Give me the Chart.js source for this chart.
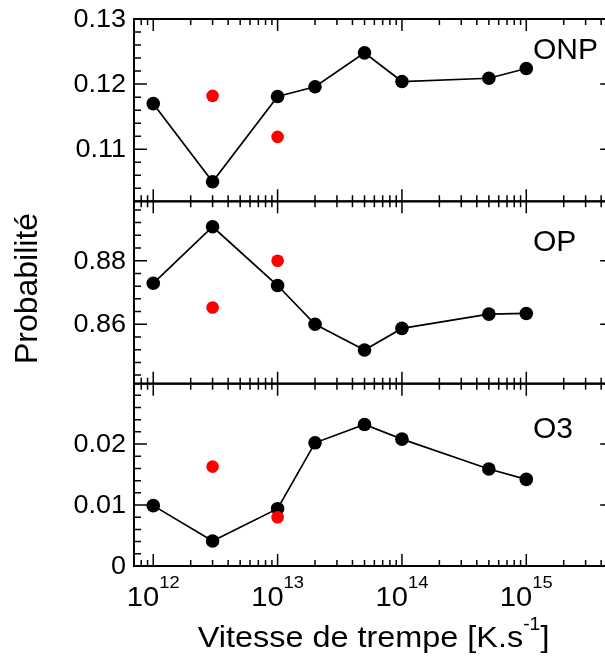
<!DOCTYPE html>
<html>
<head>
<meta charset="utf-8">
<script src="https://cdn.jsdelivr.net/npm/chart.js@4.4.0/dist/chart.umd.min.js"></script>
<style>
  html, body { margin: 0; padding: 0; background: #fff; overflow: hidden; }
  #wrap { width: 620px; height: 659px; }
</style>
</head>
<body>
<div id="wrap"><canvas id="chart" width="620" height="659"></canvas></div>
<script>
// quench rates (K/s) and probabilities
const rates = [1e12, 3e12, 1e13, 2e13, 5e13, 1e14, 5e14, 1e15];
const onp = [0.1170, 0.1050, 0.1181, 0.1196, 0.1248, 0.1204, 0.1209, 0.1224];
const op = [0.8729, 0.8907, 0.8722, 0.8600, 0.8519, 0.8587, 0.8632, 0.8634];
const o3 = [0.0099, 0.0041, 0.0094, 0.0202, 0.0232, 0.0208, 0.0159, 0.0142];

// red points (other calculation)
const redRates = [3e12, 1e13];
const onpRed = [0.1182, 0.1119];
const opRed = [0.8653, 0.8800];
const o3Red = [0.0163, 0.0080];

const panelNames = ['ONP', 'OP', 'O3'];
const onpTicks = [0.11, 0.12, 0.13];
const opTicks = [0.86, 0.88];
const o3Ticks = [0, 0.01, 0.02];
const xDecades = [12, 13, 14, 15];

const FONT = '"Liberation Sans", Arial, sans-serif';
const SX = 1.08; // the figure text is a bit wide

function pts(xs, ys) {
    return xs.map((x, i) => ({ x: x, y: ys[i] }));
}

function blackSet(ys, axis) {
    return {
        data: pts(rates, ys), yAxisID: axis, showLine: true,
        borderColor: '#000', borderWidth: 1.7,
        pointBackgroundColor: '#000', pointBorderWidth: 0,
        pointRadius: 6.8, order: 1
    };
}

function redSet(ys, axis) {
    return {
        data: pts(redRates, ys), yAxisID: axis, showLine: false,
        pointBackgroundColor: '#ff0000', pointBorderWidth: 0,
        pointRadius: 6.3, order: 0
    };
}

function yAxis(min, max, ticks, minor) {
    return {
        type: 'linear', position: 'left', stack: 'prob', stackWeight: 1,
        min: min, max: max,
        grid: { display: false, drawTicks: false },
        border: { display: false },
        ticks: { display: false },
        minorStep: minor,
        afterBuildTicks: s => { s.ticks = ticks.map(v => ({ value: v })); },
        afterFit: s => { s.width = 134; }
    };
}

function wideText(ctx, text, x, y, align, sx) {
    ctx.save();
    ctx.translate(x, y);
    ctx.scale(sx, 1);
    ctx.textAlign = align;
    ctx.fillText(text, 0, 0);
    ctx.restore();
}

const framePlugin = {
    id: 'frame',
    afterDraw(chart) {
        const ctx = chart.ctx;
        const xs = chart.scales.x;
        const area = chart.chartArea;
        const axes = ['yONP', 'yOP', 'yO3'];
        const baselines = [59, 251, 438];

        ctx.save();
        ctx.strokeStyle = '#000';
        ctx.fillStyle = '#000';
        ctx.textBaseline = 'alphabetic';

        axes.forEach((id, n) => {
            const ys = chart.scales[id];
            const top = ys.top, bottom = ys.bottom;

            ctx.lineWidth = 2;
            ctx.strokeRect(area.left, top, area.right - area.left, bottom - top);

            // y ticks, inward on both sides
            ctx.lineWidth = 1.5;
            const step = ys.options.minorStep;
            const k0 = Math.ceil(ys.min / step - 1e-6);
            const k1 = Math.floor(ys.max / step + 1e-6);
            ctx.beginPath();
            for (let k = k0; k <= k1; k++) {
                const p = ys.getPixelForValue(k * step);
                const len = k % 5 === 0 ? 13 : 7;
                ctx.moveTo(area.left, p); ctx.lineTo(area.left + len, p);
                ctx.moveTo(area.right, p); ctx.lineTo(area.right - len, p);
            }
            // x ticks, inward on top and bottom
            for (let d = 11; d <= 15; d++) {
                for (let m = 1; m <= 9; m++) {
                    const v = m * Math.pow(10, d);
                    if (v < xs.min || v > xs.max) continue;
                    const p = xs.getPixelForValue(v);
                    const len = m === 1 ? 12 : 6;
                    ctx.moveTo(p, top); ctx.lineTo(p, top + len);
                    ctx.moveTo(p, bottom); ctx.lineTo(p, bottom - len);
                }
            }
            ctx.stroke();

            // tick labels
            ctx.font = '25px ' + FONT;
            ys.ticks.forEach(t => {
                ctx.textBaseline = 'middle';
                wideText(ctx, String(t.value), area.left - 8, ys.getPixelForValue(t.value) + 1, 'right', SX);
            });
            ctx.textBaseline = 'alphabetic';

            ctx.font = '30px ' + FONT;
            wideText(ctx, panelNames[n], 533, baselines[n], 'left', 1);
        });

        // x labels 10^n
        xDecades.forEach(d => {
            const p = xs.getPixelForValue(Math.pow(10, d));
            ctx.font = '27px ' + FONT;
            const wb = ctx.measureText('10').width * SX;
            ctx.font = '17px ' + FONT;
            const we = ctx.measureText(String(d)).width * SX;
            const start = p - (wb + we) / 2;
            ctx.font = '27px ' + FONT;
            wideText(ctx, '10', start, 606, 'left', SX);
            ctx.font = '17px ' + FONT;
            wideText(ctx, String(d), start + wb, 588, 'left', SX);
        });

        // x title with superscript
        const main = 'Vitesse de trempe [K.s', sup = '-1', tail = ']';
        ctx.font = '30px ' + FONT;
        const wm = ctx.measureText(main).width * SX;
        const wt = ctx.measureText(tail).width * SX;
        ctx.font = '18px ' + FONT;
        const ws = ctx.measureText(sup).width * SX;
        let x0 = (area.left + area.right) / 2 - (wm + ws + wt) / 2;
        ctx.font = '30px ' + FONT;
        wideText(ctx, main, x0, 647, 'left', SX);
        ctx.font = '18px ' + FONT;
        wideText(ctx, sup, x0 + wm, 630, 'left', SX);
        ctx.font = '30px ' + FONT;
        wideText(ctx, tail, x0 + wm + ws, 647, 'left', SX);

        // y title
        ctx.save();
        ctx.translate(36.5, 288.5);
        ctx.rotate(-Math.PI / 2);
        ctx.font = '32px ' + FONT;
        ctx.textAlign = 'center';
        ctx.fillText('Probabilité', 0, 0);
        ctx.restore();

        ctx.restore();
    }
};

new Chart(document.getElementById('chart'), {
    type: 'scatter',
    data: {
        datasets: [
            redSet(onpRed, 'yONP'), redSet(opRed, 'yOP'), redSet(o3Red, 'yO3'),
            blackSet(onp, 'yONP'), blackSet(op, 'yOP'), blackSet(o3, 'yO3')
        ]
    },
    options: {
        responsive: false,
        animation: false,
        devicePixelRatio: 1,
        layout: { padding: { top: 19, right: 6, bottom: 93, left: 0 } },
        plugins: { legend: { display: false }, tooltip: { enabled: false } },
        scales: {
            x: { type: 'logarithmic', min: 7e11, max: 5e15, display: false },
            yO3: yAxis(0, 0.0299, o3Ticks, 0.002),
            yOP: yAxis(0.8413, 0.8987, opTicks, 0.004),
            yONP: yAxis(0.102, 0.13, onpTicks, 0.002)
        }
    },
    plugins: [framePlugin]
});
</script>
</body>
</html>
